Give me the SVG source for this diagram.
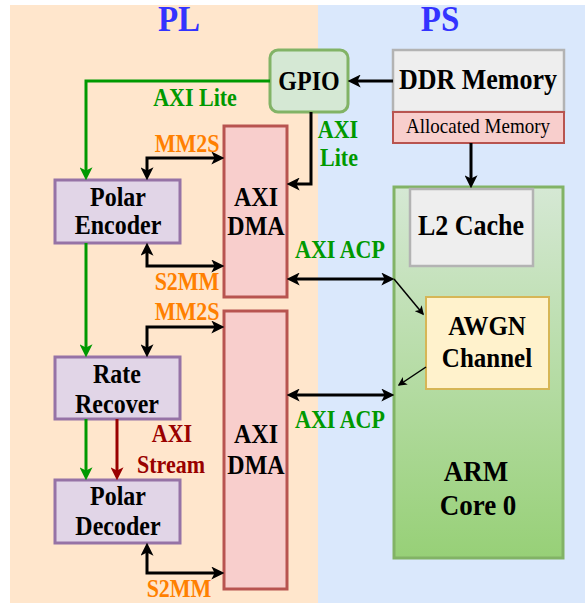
<svg xmlns="http://www.w3.org/2000/svg" width="585" height="605" viewBox="0 0 585 605">
<defs>
<style>
text{font-family:"Liberation Serif","Times New Roman",serif;font-weight:bold;text-anchor:middle;}
.node{font-size:24px;fill:#000;}
.lbl{font-size:22px;}
.green{fill:#009900;}
.orange{fill:#ff8000;}
.red{fill:#990000;}
.title{font-size:33px;fill:#3333ff;}
.blk{fill:none;stroke:#000;stroke-width:3;}
.thin{fill:none;stroke:#000;stroke-width:1.5;}
.grn{fill:none;stroke:#009900;stroke-width:3;}
.rd{fill:none;stroke:#990000;stroke-width:3;}
.purple{fill:#e1d5e7;stroke:#9673a6;stroke-width:3;}
.dma{fill:#f8cecc;stroke:#b85450;stroke-width:3;}
.gray{fill:#eeeeee;stroke:#b3b3b3;stroke-width:2.5;}
</style>
<linearGradient id="armg" x1="0" y1="0" x2="0" y2="1">
<stop offset="0" stop-color="#d5e8d4"/>
<stop offset="1" stop-color="#97d077"/>
</linearGradient>
<marker id="ab" viewBox="0 0 12 12" refX="8" refY="6" markerWidth="13" markerHeight="13" markerUnits="userSpaceOnUse" orient="auto-start-reverse">
<path d="M0,0 L12,6 L0,12 L3,6 z" fill="#000"/>
</marker>
<marker id="ag" viewBox="0 0 12 12" refX="8" refY="6" markerWidth="13" markerHeight="13" markerUnits="userSpaceOnUse" orient="auto-start-reverse">
<path d="M0,0 L12,6 L0,12 L3,6 z" fill="#009900"/>
</marker>
<marker id="ar" viewBox="0 0 12 12" refX="8" refY="6" markerWidth="13" markerHeight="13" markerUnits="userSpaceOnUse" orient="auto-start-reverse">
<path d="M0,0 L12,6 L0,12 L3,6 z" fill="#990000"/>
</marker>
<marker id="at" viewBox="0 0 12 12" refX="10" refY="6" markerWidth="9" markerHeight="9" markerUnits="userSpaceOnUse" orient="auto-start-reverse">
<path d="M0,0 L12,6 L0,12 L3,6 z" fill="#000"/>
</marker>
</defs>

<g id="background">
<rect x="0" y="0" width="585" height="605" fill="#ffffff"/>
<rect x="10" y="5" width="308" height="598" fill="#ffe6cc"/>
<rect x="318" y="5" width="267" height="598" fill="#dae8fc"/>
<text class="title" transform="translate(179 31) scale(1 1.1)">PL</text>
<text class="title" transform="translate(440 31) scale(1 1.1)">PS</text>
</g>

<g id="gpio">
<rect x="270" y="50" width="78" height="62" rx="8" fill="#d5e8d4" stroke="#82b366" stroke-width="3"/>
<text class="node" transform="translate(309 90) scale(1 1.1)">GPIO</text>
</g>

<g id="ddr">
<rect class="gray" x="393" y="50" width="171" height="62"/>
<text class="node" transform="translate(478 89) scale(1 1.1)" style="font-size:26px">DDR Memory</text>
</g>

<g id="allocated">
<rect x="393" y="112" width="171" height="31" fill="#f8cecc" stroke="#b85450" stroke-width="2"/>
<text transform="translate(478 133) scale(1 1.1)" style="font-size:19px;font-weight:normal">Allocated Memory</text>
</g>

<g id="arm">
<rect x="394" y="187" width="169" height="371" fill="url(#armg)" stroke="#82b366" stroke-width="3"/>
<text class="node" transform="translate(476 481) scale(1 1.1)" style="font-size:27px">ARM</text>
<text class="node" transform="translate(478 515) scale(1 1.1)" style="font-size:27px">Core 0</text>
</g>

<g id="l2cache">
<rect class="gray" x="410" y="189" width="123" height="77"/>
<text class="node" transform="translate(471 235) scale(1 1.1)" style="font-size:26px">L2 Cache</text>
</g>

<g id="awgn">
<rect x="426" y="297" width="123" height="92" fill="#fff2cc" stroke="#d6b656" stroke-width="2"/>
<text class="node" transform="translate(487 335) scale(1 1.1)" style="font-size:25px">AWGN</text>
<text class="node" transform="translate(487 367) scale(1 1.1)" style="font-size:25px">Channel</text>
</g>

<g id="dma1">
<rect class="dma" x="224" y="126" width="63" height="171"/>
<text class="node" transform="translate(256 206) scale(1 1.1)">AXI</text>
<text class="node" transform="translate(256 235) scale(1 1.1)">DMA</text>
</g>

<g id="dma2">
<rect class="dma" x="224" y="311" width="63" height="278"/>
<text class="node" transform="translate(256 443) scale(1 1.1)">AXI</text>
<text class="node" transform="translate(256 474) scale(1 1.1)">DMA</text>
</g>

<g id="encoder">
<rect class="purple" x="55" y="180" width="125" height="63"/>
<text class="node" transform="translate(118 206) scale(1 1.1)">Polar</text>
<text class="node" transform="translate(118 234) scale(1 1.1)">Encoder</text>
</g>

<g id="rate">
<rect class="purple" x="55" y="357" width="125" height="62"/>
<text class="node" transform="translate(117 383) scale(1 1.1)">Rate</text>
<text class="node" transform="translate(117 413) scale(1 1.1)">Recover</text>
</g>

<g id="decoder">
<rect class="purple" x="55" y="480" width="125" height="63"/>
<text class="node" transform="translate(118 505) scale(1 1.1)">Polar</text>
<text class="node" transform="translate(118 535) scale(1 1.1)">Decoder</text>
</g>

<g id="connectors">
<path class="blk" d="M393,81 H352" marker-end="url(#ab)"/>
<path class="blk" d="M471,143 V184" marker-end="url(#ab)"/>
<path class="blk" d="M311,112 V184 H291" marker-end="url(#ab)"/>
<path class="blk" d="M147,176 V158 H220" marker-start="url(#ab)" marker-end="url(#ab)"/>
<path class="blk" d="M147,247 V266 H220" marker-start="url(#ab)" marker-end="url(#ab)"/>
<path class="blk" d="M147,353 V327 H220" marker-start="url(#ab)" marker-end="url(#ab)"/>
<path class="blk" d="M147,547 V573 H220" marker-start="url(#ab)" marker-end="url(#ab)"/>
<path class="blk" d="M291,279 H390" marker-start="url(#ab)" marker-end="url(#ab)"/>
<path class="blk" d="M291,395 H390" marker-start="url(#ab)" marker-end="url(#ab)"/>
<path class="thin" d="M394,279 L423,314" marker-end="url(#at)"/>
<path class="thin" d="M426,367 L399,385" marker-end="url(#at)"/>
<path class="grn" d="M270,81 H86 V176" marker-end="url(#ag)"/>
<path class="grn" d="M86,243 V353" marker-end="url(#ag)"/>
<path class="grn" d="M86,419 V476" marker-end="url(#ag)"/>
<path class="rd" d="M117,419 V476" marker-end="url(#ar)"/>
<text class="lbl green" transform="translate(195 106) scale(1 1.1)">AXI Lite</text>
<text class="lbl green" transform="translate(338 138) scale(1 1.1)">AXI</text>
<text class="lbl green" transform="translate(339 166) scale(1 1.1)">Lite</text>
<text class="lbl orange" transform="translate(187 152) scale(1 1.1)">MM2S</text>
<text class="lbl orange" transform="translate(187 290) scale(1 1.1)">S2MM</text>
<text class="lbl orange" transform="translate(187 320) scale(1 1.1)">MM2S</text>
<text class="lbl orange" transform="translate(179 597) scale(1 1.1)">S2MM</text>
<text class="lbl green" transform="translate(340 258) scale(1 1.1)">AXI ACP</text>
<text class="lbl green" transform="translate(340 428) scale(1 1.1)">AXI ACP</text>
<text class="lbl red" transform="translate(172 442) scale(1 1.1)">AXI</text>
<text class="lbl red" transform="translate(171 473) scale(1 1.1)">Stream</text>
</g>
</svg>
